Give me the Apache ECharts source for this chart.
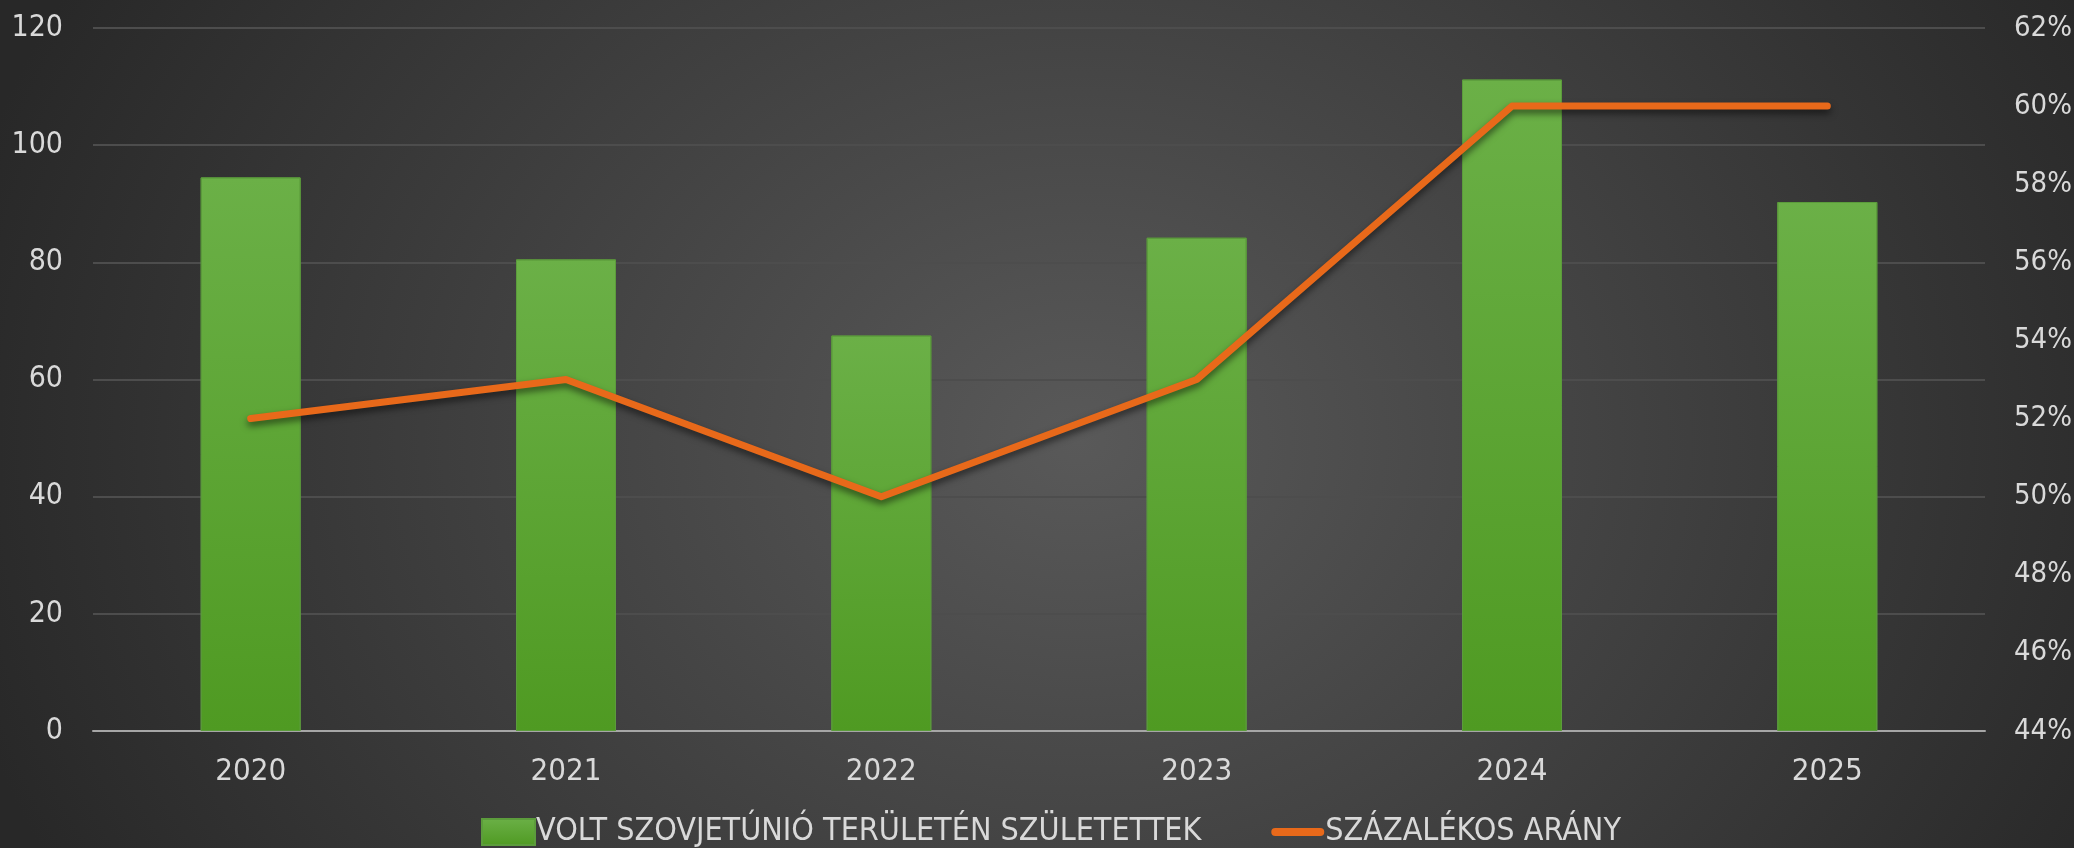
<!DOCTYPE html>
<html>
<head>
<meta charset="utf-8">
<script src="https://cdn.jsdelivr.net/npm/echarts@6/dist/echarts.min.js"></script>
<style>
  html, body { margin: 0; padding: 0; }
  #chart {
    width: 2074px; height: 848px;
    background: radial-gradient(ellipse 1150px 950px at 52% 52%, #595959 0%, #282828 100%);
  }
</style>
</head>
<body>
<div id="chart"></div>
<script>
const years = ['2020', '2021', '2022', '2023', '2024', '2025'];
const born = [94.5, 80.5, 67.5, 84.2, 111.2, 90.3];
const percent = [52, 53, 50, 53, 60, 60];

const font = "'DejaVu Sans Condensed', 'Liberation Sans Narrow', 'DejaVu Sans', sans-serif";

const myChart = echarts.init(document.getElementById('chart'));
const option = {
  backgroundColor: 'transparent',
  textStyle: { fontFamily: font },
  grid: { left: 93, right: 89, top: 28, bottom: 117, outerBoundsMode: 'none', containLabel: false },
  legend: {
    top: 811,
    left: 476,
    itemWidth: 53,
    itemHeight: 26,
    itemGap: 70,
    textStyle: { color: '#d9d9d9', fontSize: 32, fontFamily: font, padding: [4, 0, 0, -4] },
    data: [
      { name: 'VOLT SZOVJETÚNIÓ TERÜLETÉN SZÜLETETTEK', icon: 'rect' },
      { name: 'SZÁZALÉKOS ARÁNY', icon: 'path://M4,0 H49 A4,4 0 0 1 49,8 H4 A4,4 0 0 1 4,0 Z' }
    ]
  },
  xAxis: {
    type: 'category',
    data: years,
    axisTick: { show: false },
    axisLine: { lineStyle: { color: '#a6a6a6', width: 2 } },
    axisLabel: { color: '#d9d9d9', fontSize: 31, margin: 25 }
  },
  yAxis: [{
    type: 'value',
    min: 0, max: 120, interval: 20,
    axisLabel: { color: '#d9d9d9', fontSize: 30, margin: 30 },
    splitLine: { lineStyle: { color: '#4d4d4d', width: 2 } }
  }, {
    type: 'value',
    min: 44, max: 62, interval: 2,
    axisLabel: { color: '#d9d9d9', fontSize: 29, margin: 29, formatter: '{value}%' },
    splitLine: { show: false }
  }],
  series: [{
    name: 'VOLT SZOVJETÚNIÓ TERÜLETÉN SZÜLETETTEK',
    type: 'bar',
    data: born,
    barWidth: 100,
    itemStyle: {
      color: new echarts.graphic.LinearGradient(0, 0, 0, 1, [
        { offset: 0, color: '#6bb047' },
        { offset: 1, color: '#4f9a22' }
      ]),
      borderColor: '#5c9c3c',
      borderWidth: 1
    }
  }, {
    name: 'SZÁZALÉKOS ARÁNY',
    type: 'line',
    yAxisIndex: 1,
    data: percent,
    symbol: 'none',
    lineStyle: {
      color: '#e8691a',
      width: 7,
      cap: 'round',
      join: 'round',
      shadowColor: 'rgba(0,0,0,0.55)',
      shadowBlur: 7,
      shadowOffsetY: 4
    },
    itemStyle: { color: '#e8691a' }
  }]
};
myChart.setOption(option);
</script>
</body>
</html>
